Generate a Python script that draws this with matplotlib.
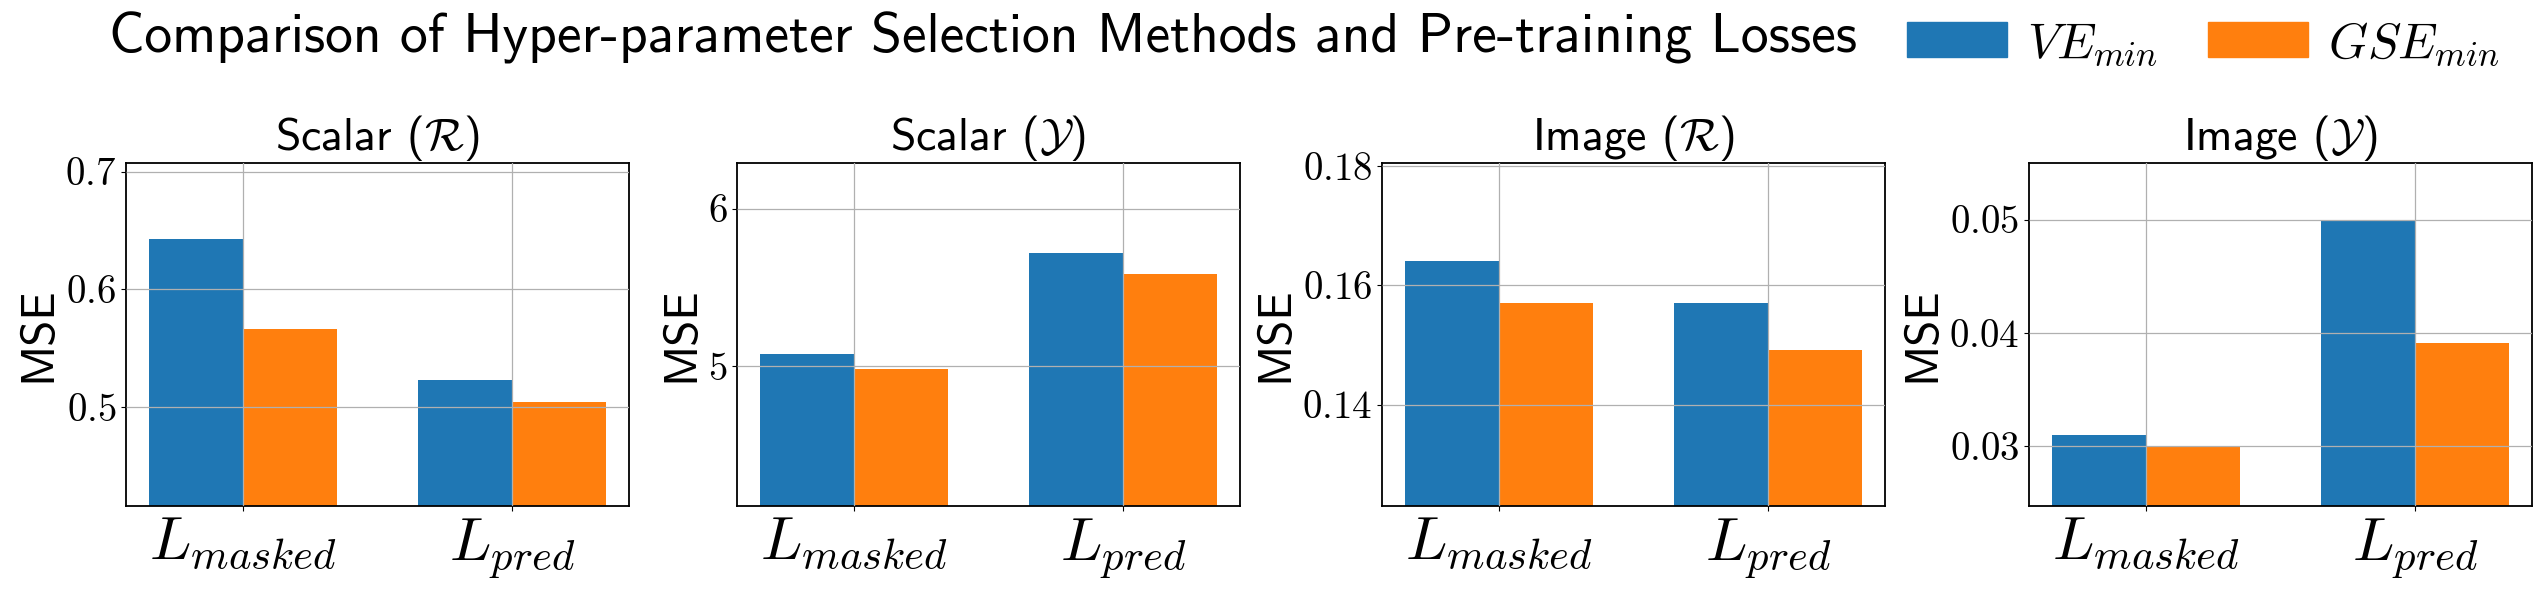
import numpy as np
import matplotlib
matplotlib.use("Agg")
import matplotlib.pyplot as plt
from matplotlib.patches import Patch

plt.rcParams["mathtext.fontset"] = "cm"
plt.rcParams["font.family"] = ["cmss10", "DejaVu Sans"]
plt.rcParams["axes.unicode_minus"] = False

# data
losses = [r"$L_{masked}$", r"$L_{pred}$"]
panel_titles = [r"Scalar ($\mathcal{R}$)", r"Scalar ($\mathcal{Y}$)",
                r"Image ($\mathcal{R}$)", r"Image ($\mathcal{Y}$)"]
ve_min = [[0.643, 0.5235], [5.078, 5.720], [0.1641, 0.1570], [0.0310, 0.0500]]
gse_min = [[0.566, 0.5045], [4.983, 5.586], [0.1570, 0.1491], [0.0300, 0.0391]]
yticks = [[0.5, 0.6, 0.7], [5, 6], [0.14, 0.16, 0.18], [0.03, 0.04, 0.05]]
series_names = [r"$VE_{min}$", r"$GSE_{min}$"]
colors = ["#1f77b4", "#ff7f0e"]

W, H = 2541, 590
fig = plt.figure(figsize=(W / 100, H / 100), dpi=100)
lefts = [126, 737, 1382, 2029]
width = 0.35
x = np.arange(len(losses))

for i, left in enumerate(lefts):
    ax = fig.add_axes([left / W, 1 - 506 / H, 503 / W, 343 / H])
    ax.bar(x - width / 2, ve_min[i], width, color=colors[0])
    ax.bar(x + width / 2, gse_min[i], width, color=colors[1])
    lo = min(min(ve_min[i]), min(gse_min[i]))
    hi = max(max(ve_min[i]), max(gse_min[i]))
    ax.set_ylim(lo * 0.825, hi * 1.1)
    ax.set_xticks(x)
    ax.set_xticklabels(losses, fontsize=44)
    ax.set_yticks(yticks[i])
    ax.set_yticklabels(["$%g$" % v for v in yticks[i]], fontsize=28)
    ax.set_ylabel("MSE", fontsize=34)
    ax.set_title(panel_titles[i], fontsize=33, pad=6)
    ax.grid(True, color="#b0b0b0", lw=0.9)
    ax.set_axisbelow(False)
    for sp in ax.spines.values():
        sp.set_linewidth(1.3)

fig.text(983 / W, 1 - 53 / H,
         "Comparison of Hyper-parameter Selection Methods and Pre-training Losses",
         fontsize=40, ha="center", va="baseline")

handles = [Patch(color=c) for c in colors]
fig.legend(handles, series_names, loc="center left", ncol=2, frameon=False,
           fontsize=36, bbox_to_anchor=(1887 / W, 1 - 44 / H), borderaxespad=0,
           handletextpad=0.4, columnspacing=1.0)

fig.savefig("out.png", dpi=100)
